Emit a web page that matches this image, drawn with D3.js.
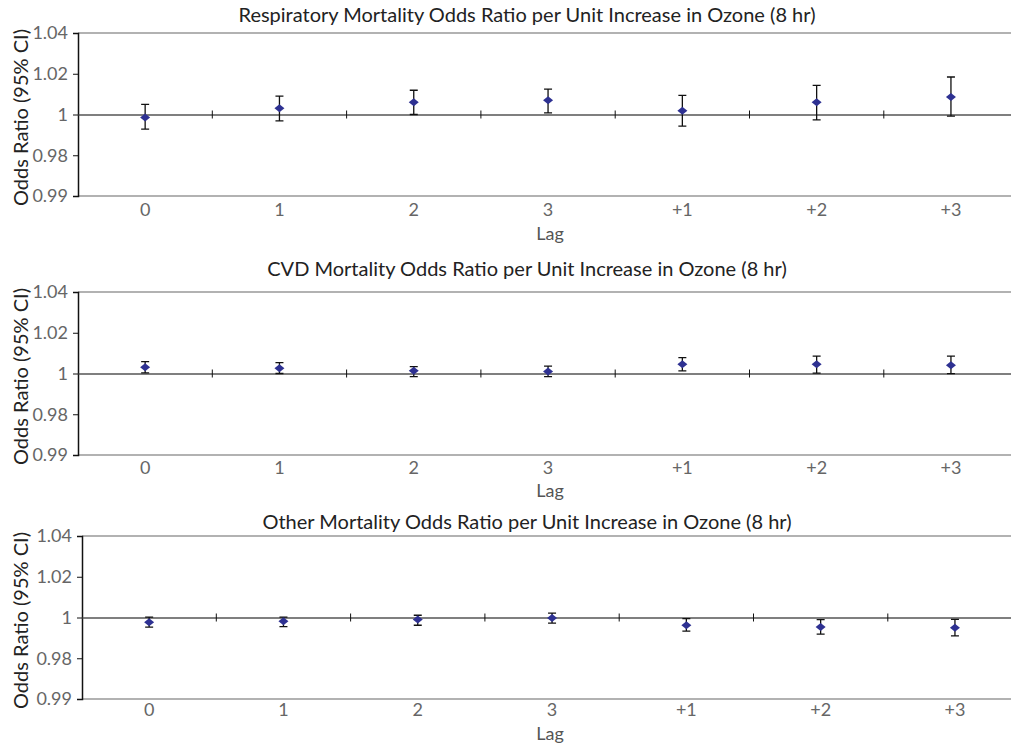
<!DOCTYPE html>
<html lang="en">
	<head>
		<meta charset="utf-8">
		<title>Mortality odds ratios per unit increase in ozone</title>
		<script type="text/javascript" src="https://cdn.jsdelivr.net/npm/d3@7"></script>
		<style type="text/css">
			body {
				margin: 0;
				background: #fff;
			}
			text {
				font-family: Lato, "Open Sans", sans-serif;
			}
		</style>
	</head>
	<body>
		<script type="text/javascript">

			//Categories and tick labels
			var lags = ["0", "1", "2", "3", "+1", "+2", "+3"];
			var yTickValues = [0.96, 0.98, 1, 1.02, 1.04];
			var yTickLabels = ["0.99", "0.98", "1", "1.02", "1.04"];

			var titles = [
				"Respiratory Mortality Odds Ratio per Unit Increase in Ozone (8 hr)",
				"CVD Mortality Odds Ratio per Unit Increase in Ozone (8 hr)",
				"Other Mortality Odds Ratio per Unit Increase in Ozone (8 hr)"
			];

			//Odds ratios, lower and upper 95% CI, one array per panel
			var respOR    = [0.9985, 1.0031, 1.0060, 1.0070, 1.0018, 1.0060, 1.0086];
			var respLower = [0.9928, 0.9969, 1.0000, 1.0008, 0.9943, 0.9974, 0.9992];
			var respUpper = [1.0050, 1.0090, 1.0119, 1.0125, 1.0094, 1.0143, 1.0184];

			var cvdOR    = [1.0031, 1.0026, 1.0013, 1.0010, 1.0046, 1.0046, 1.0041];
			var cvdLower = [1.0003, 1.0000, 0.9985, 0.9985, 1.0013, 1.0002, 0.9999];
			var cvdUpper = [1.0058, 1.0053, 1.0034, 1.0036, 1.0078, 1.0085, 1.0085];

			var otherOR    = [0.9977, 0.9982, 0.9990, 0.9998, 0.9962, 0.9953, 0.9950];
			var otherLower = [0.9953, 0.9955, 0.9962, 0.9972, 0.9933, 0.9918, 0.9910];
			var otherUpper = [1.0002, 1.0002, 1.0011, 1.0021, 0.9994, 0.9990, 0.9991];

			var panels = [
				{ title: titles[0], or: respOR, lo: respLower, hi: respUpper,
				  top: 33, left: 78, titleY: 22, tickY: 216, lagY: 240 },
				{ title: titles[1], or: cvdOR, lo: cvdLower, hi: cvdUpper,
				  top: 292, left: 78, titleY: 276, tickY: 474, lagY: 497 },
				{ title: titles[2], or: otherOR, lo: otherLower, hi: otherUpper,
				  top: 536, left: 82, titleY: 529, tickY: 716, lagY: 740 }
			];

			//Width and height
			var w = 1011;
			var h = 751;
			var plotH = 163;
			var bandW = 134.3;

			var svg = d3.select("body")
						.append("svg")
						.attr("width", w)
						.attr("height", h);

			panels.forEach(p => {

				var xScale = d3.scaleBand()
								.domain(lags)
								.range([p.left, p.left + bandW * lags.length]);

				var yScale = d3.scaleLinear()
								.domain([0.96, 1.04])
								.range([p.top + plotH, p.top]);

				var g = svg.append("g");

				//Title
				g.append("text")
				 .attr("x", 527)
				 .attr("y", p.titleY)
				 .attr("text-anchor", "middle")
				 .attr("font-size", 20)
				 .attr("fill", "#222")
				 .text(p.title);

				//Top and bottom plot borders
				[1.04, 0.96].forEach(v => {
					g.append("line")
					 .attr("x1", p.left)
					 .attr("x2", w)
					 .attr("y1", yScale(v))
					 .attr("y2", yScale(v))
					 .attr("stroke", "#999")
					 .attr("stroke-width", 1.5);
				});

				//Y axis
				var yAxis = d3.axisLeft(yScale)
								.tickValues(yTickValues)
								.tickFormat((d, i) => yTickLabels[i])
								.tickSize(5)
								.tickPadding(5);

				var ya = g.append("g")
						  .attr("transform", "translate(" + p.left + ",0)")
						  .call(yAxis);
				ya.select(".domain").attr("stroke", "#111").attr("stroke-width", 1.5);
				ya.selectAll(".tick line").attr("stroke", "#111");
				ya.selectAll(".tick text")
				  .attr("font-size", 18)
				  .attr("font-family", "Lato, sans-serif")
				  .attr("fill", "#666");

				//Axis line at odds ratio 1, with ticks between categories
				var xAxis = d3.axisBottom(xScale)
								.tickSize(0)
								.tickFormat("");
				var xa = g.append("g")
						  .attr("transform", "translate(0," + yScale(1) + ")")
						  .call(xAxis);
				xa.select(".domain").attr("stroke", "#555").attr("stroke-width", 1.5);

				g.selectAll(".sep")
				 .data(lags.slice(1))
				 .enter()
				 .append("line")
				 .attr("x1", d => xScale(d))
				 .attr("x2", d => xScale(d))
				 .attr("y1", yScale(1) - 4)
				 .attr("y2", yScale(1) + 4)
				 .attr("stroke", "#111");

				//Category labels
				g.selectAll(".lab")
				 .data(lags)
				 .enter()
				 .append("text")
				 .attr("x", d => xScale(d) + xScale.bandwidth() / 2)
				 .attr("y", p.tickY)
				 .attr("text-anchor", "middle")
				 .attr("font-size", 18)
				 .attr("fill", "#666")
				 .text(d => d);

				g.append("text")
				 .attr("x", 550)
				 .attr("y", p.lagY)
				 .attr("text-anchor", "middle")
				 .attr("font-size", 18)
				 .attr("fill", "#555")
				 .text("Lag");

				//Y axis title
				g.append("text")
				 .attr("transform", "translate(28," + (p.top + plotH / 2 + 3) + ") rotate(-90)")
				 .attr("text-anchor", "middle")
				 .attr("font-size", 20)
				 .attr("fill", "#222")
				 .text("Odds Ratio (95% CI)");

				//Error bars
				var cx = (d, i) => xScale(lags[i]) + xScale.bandwidth() / 2;

				g.selectAll(".err")
				 .data(p.or)
				 .enter()
				 .append("path")
				 .attr("d", (d, i) => {
					var x = cx(d, i), y1 = yScale(p.hi[i]), y2 = yScale(p.lo[i]);
					return "M" + (x - 4) + "," + y1 + "H" + (x + 4) +
						   "M" + x + "," + y1 + "V" + y2 +
						   "M" + (x - 4) + "," + y2 + "H" + (x + 4);
				 })
				 .attr("fill", "none")
				 .attr("stroke", "#111")
				 .attr("stroke-width", 1.3);

				//Diamond markers
				g.selectAll(".pt")
				 .data(p.or)
				 .enter()
				 .append("path")
				 .attr("d", (d, i) => {
					var x = cx(d, i), y = yScale(d);
					return "M" + (x - 5) + "," + y + "L" + x + "," + (y - 4) +
						   "L" + (x + 5) + "," + y + "L" + x + "," + (y + 4) + "Z";
				 })
				 .attr("fill", "#2e3192");
			});

		</script>
	</body>
</html>
